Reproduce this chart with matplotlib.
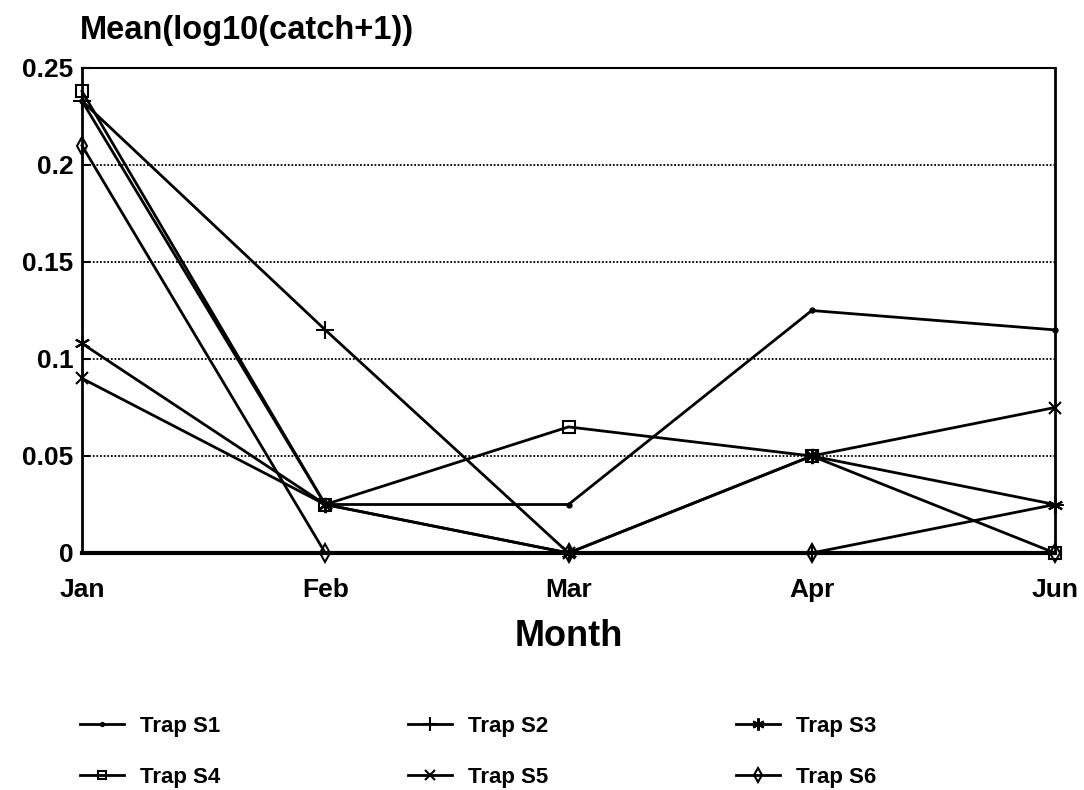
import numpy as np
import matplotlib
matplotlib.use("Agg")
import matplotlib.pyplot as plt

plt.rcParams['font.family'] = ['Liberation Sans', 'DejaVu Sans']
plt.rcParams['font.weight'] = 'bold'

months = ["Jan", "Feb", "Mar", "Apr", "Jun"]
labels = ["Trap S1", "Trap S2", "Trap S3", "Trap S4", "Trap S5", "Trap S6"]

s1 = [0.233, 0.025, 0.025, 0.125, 0.115]
s2 = [0.233, 0.115, 0.0, 0.0, 0.025]
s3 = [0.108, 0.025, 0.0, 0.05, 0.025]
s4 = [0.238, 0.025, 0.065, 0.05, 0.0]
s5 = [0.090, 0.025, 0.0, 0.05, 0.075]
s6 = [0.210, 0.0, 0.0, 0.0, 0.0]

yticks = [0, 0.05, 0.1, 0.15, 0.2, 0.25]
ytick_labels = ["0", "0.05", "0.1", "0.15", "0.2", "0.25"]

series = [s1, s2, s3, s4, s5, s6]
markers = [
    dict(marker='.', markersize=7),
    dict(marker='+', markersize=13, markeredgewidth=1.5),
    dict(marker=(6, 2, 0), markersize=11, markeredgewidth=1.5),
    dict(marker='s', markersize=8, fillstyle='none', markeredgewidth=1.5),
    dict(marker='x', markersize=9, markeredgewidth=1.5),
    dict(marker='d', markersize=9, fillstyle='none', markeredgewidth=1.5),
]

fig = plt.figure(figsize=(10.84, 7.90), dpi=100)
ax = fig.add_axes([82 / 1084, 1 - 553 / 790, (1055 - 82) / 1084, (553 - 68) / 790])

x = np.arange(len(months))
lines = []
for vals, lab, mk in zip(series, labels, markers):
    ln, = ax.plot(x, vals, color='black', linewidth=2.0, label=lab, clip_on=False, **mk)
    lines.append(ln)

ax.set_xlim(0, len(months) - 1)
ax.set_ylim(0, 0.25)
ax.set_xticks(x)
ax.set_xticklabels(months, fontsize=19, fontweight='bold')
ax.set_yticks(yticks)
ax.set_yticklabels(ytick_labels, fontsize=19, fontweight='bold')
ax.tick_params(axis='x', length=0, pad=18)
ax.tick_params(axis='y', direction='in', length=6, width=1.5, pad=6)

for y in yticks[1:-1]:
    ax.axhline(y, color='black', linestyle=(0, (1, 1)), linewidth=1.3, zorder=0)

ax.spines['bottom'].set_linewidth(3)
ax.spines['left'].set_linewidth(2)
ax.spines['right'].set_linewidth(2)
ax.spines['top'].set_linewidth(1.5)

ax.set_xlabel("Month", fontsize=26, fontweight='bold', labelpad=12)
fig.text(80 / 1084, 1 - 30 / 790, "Mean(log10(catch+1))", fontsize=23.5,
         fontweight='bold', va='center', ha='left')

order = [0, 3, 1, 4, 2, 5]
fig.legend([lines[i] for i in order], [labels[i] for i in order],
           loc='upper left', bbox_to_anchor=(80 / 1084, 1 - 716 / 790),
           ncol=3, frameon=False, fontsize=16, borderpad=0, borderaxespad=0,
           handlelength=2.0, handletextpad=0.7, columnspacing=8.45,
           labelspacing=1.35, markerscale=0.8)

fig.savefig("out.png", dpi=100)
